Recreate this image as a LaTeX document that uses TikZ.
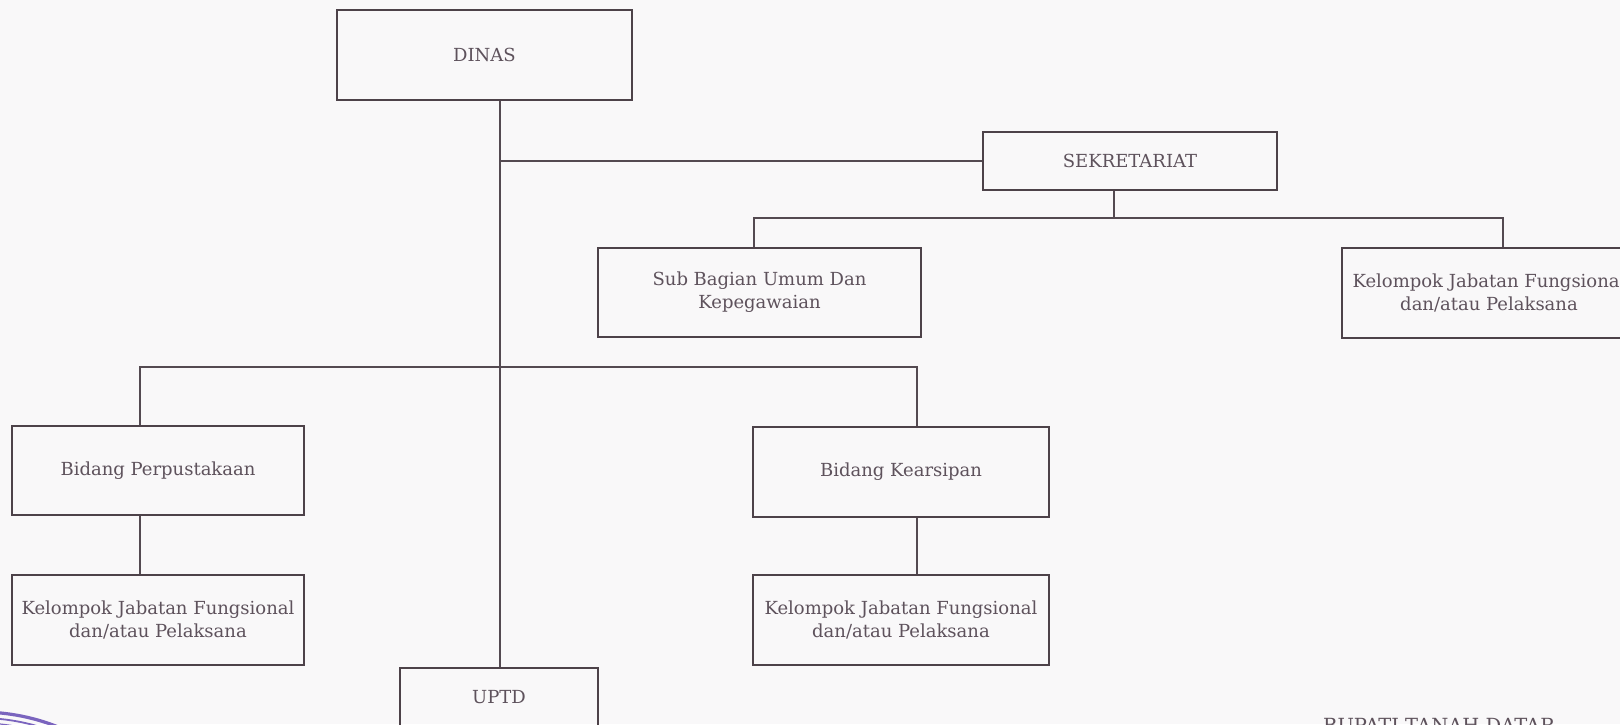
\documentclass[tikz,border=0pt]{standalone}
\usepackage{fontspec}
\setmainfont{DejaVu Serif}
\usepackage{tikz}
\usepackage{xcolor}
\definecolor{boxline}{HTML}{4D4249}
\definecolor{wire}{HTML}{544A51}
\definecolor{ink}{HTML}{5E525C}
\definecolor{stamp}{HTML}{5B3FB0}
\definecolor{paper}{HTML}{F9F8F9}

\begin{document}
\begin{tikzpicture}[x=1pt, y=-1pt,
    unit/.style={draw=boxline, line width=2.5pt, text=ink, align=center,
      inner sep=0pt, font=\fontsize{18}{23}\selectfont},
    link/.style={draw=wire, line width=1.5pt}]
  % page frame: the scan is cut on the right and at the bottom
  \useasboundingbox (0,0) rectangle (1620,724);
  \clip (0,0) rectangle (1620,724);
  \fill[paper] (0,0) rectangle (1620,724);
  % top level
  \node[unit, minimum width=295, minimum height=90] (dinas) at (484.5,55) {DINAS};
  \node[unit, minimum width=294, minimum height=58] (sekre) at (1130,161) {SEKRETARIAT};
  % under the secretariat
  \node[unit, minimum width=323, minimum height=89] (subbag) at (759.5,292.5)
    {Sub Bagian Umum Dan\\Kepegawaian};
  \node[unit, minimum width=294, minimum height=90] (kjfsek) at (1489,293)
    {Kelompok Jabatan Fungsional\\dan/atau Pelaksana};
  % the two fields
  \node[unit, minimum width=292, minimum height=89] (bidpus) at (158,470.5)
    {Bidang Perpustakaan};
  \node[unit, minimum width=292, minimum height=90] (kjfpus) at (158,620)
    {Kelompok Jabatan Fungsional\\dan/atau Pelaksana};
  \node[unit, minimum width=296, minimum height=90] (bidars) at (901,472)
    {Bidang Kearsipan};
  \node[unit, minimum width=296, minimum height=90] (kjfars) at (901,620)
    {Kelompok Jabatan Fungsional\\dan/atau Pelaksana};
  % technical unit, bottom edge falls off the page
  \node[unit, minimum width=198, minimum height=58] (uptd) at (499,697) {UPTD};
  % signature line, also cut by the page edge
  \node[anchor=north west, inner sep=0pt, text=ink,
    font=\fontsize{19.5}{22}\selectfont] (bupati) at (1323,718) {BUPATI TANAH DATAR};
  % drop points of the connectors
  \coordinate (trunk) at (500,0);
  \coordinate (sdrop) at (1114,218);
  \coordinate (lsub) at (754,218);
  \coordinate (lkjf) at (1503,218);
  \coordinate (lpus) at (140,367);
  \coordinate (lars) at (917,367);
  % connectors
  \draw[link] (dinas.south -| trunk) -- (uptd.north -| trunk);
  \draw[link] (trunk |- sekre.west) -- (sekre.west);
  \draw[link] (sekre.south -| sdrop) -- (sdrop);
  \draw[link] (subbag.north -| lsub) |- (lkjf) -- (kjfsek.north -| lkjf);
  \draw[link] (bidpus.north -| lpus) |- (lars) -- (bidars.north -| lars);
  \draw[link] (bidpus.south -| lpus) -- (kjfpus.north -| lpus);
  \draw[link] (bidars.south -| lars) -- (kjfars.north -| lars);
  % edge of the round stamp, bottom left
  \foreach \r/\w in {211/3.2, 205/1.8, 200/1.2}
    \draw[stamp, line width=\w pt, opacity=0.8] (-20,923) circle[radius=\r];
\end{tikzpicture}
\end{document}
